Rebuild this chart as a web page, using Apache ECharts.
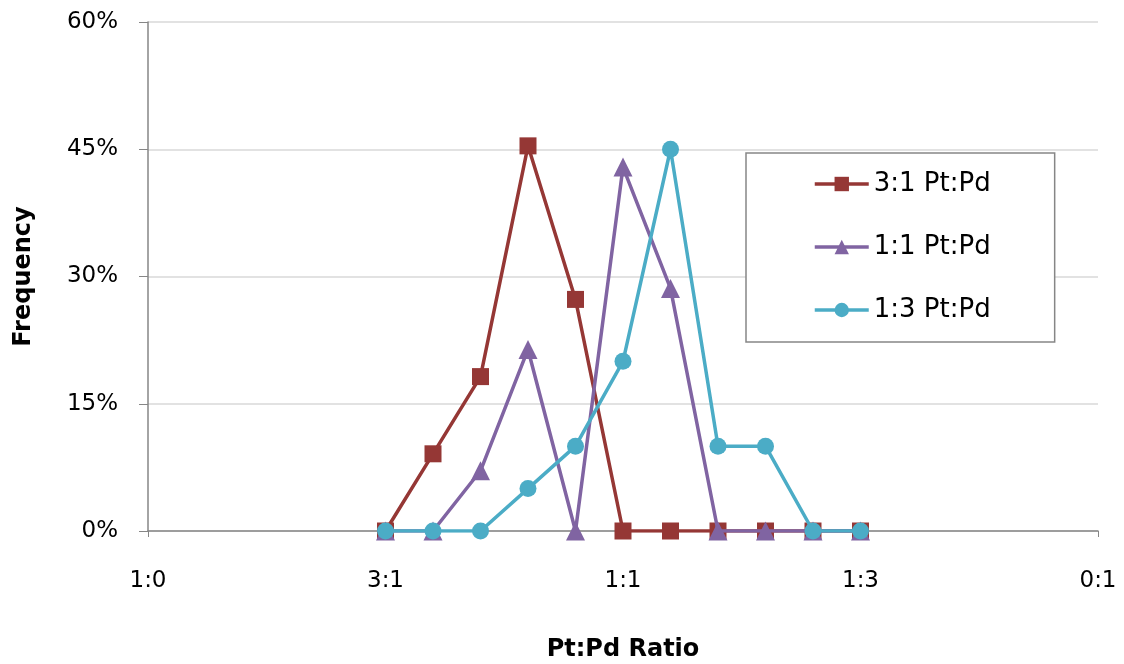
<!DOCTYPE html>
<html>
<head>
<meta charset="utf-8">
<script src="https://cdn.jsdelivr.net/npm/echarts@6/dist/echarts.min.js"></script>
<style>html,body{margin:0;padding:0;background:#fff}#c{width:1124px;height:664px}</style>
</head>
<body>
<div id="c"></div>
<script>
// Pd fraction positions (0 = 1:0, 1 = 0:1)
const xPositions = [0.25, 0.30, 0.35, 0.40, 0.45, 0.50, 0.55, 0.60, 0.65, 0.70, 0.75];
const xTickValues = [0, 0.25, 0.5, 0.75, 1];
const xTickLabels = ['1:0', '3:1', '1:1', '1:3', '0:1'];
const seriesNames = ['3:1 Pt:Pd', '1:1 Pt:Pd', '1:3 Pt:Pd'];
const s31 = [0, 9.1, 18.2, 45.4, 27.3, 0, 0, 0, 0, 0, 0];
const s11 = [0, 0, 7.1, 21.4, 0, 42.9, 28.6, 0, 0, 0, 0];
const s13 = [0, 0, 0, 5, 10, 20, 45, 10, 10, 0, 0];

const colors = ['#953735', '#8064A2', '#4BACC6'];
const symbols = ['rect', 'triangle', 'circle'];
const FONT = '"DejaVu Sans", sans-serif';

function pairs(vals) { return xPositions.map((x, i) => [x, vals[i]]); }

const chart = echarts.init(document.getElementById('c'));
chart.setOption({
  animation: false,
  backgroundColor: '#ffffff',
  textStyle: { fontFamily: FONT },
  grid: { left: 148, right: 26, top: 22, bottom: 133, containLabel: false, outerBoundsMode: 'none' },
  legend: {
    orient: 'vertical',
    left: 746, top: 153,
    padding: [16, 64, 17, 67],
    itemGap: 33,
    itemWidth: 54, itemHeight: 18,
    backgroundColor: '#fff',
    borderColor: '#868686', borderWidth: 1.5,
    lineStyle: { width: 3.5 },
    textStyle: { fontSize: 26, color: '#000', fontFamily: FONT, lineHeight: 30 },
    data: seriesNames
  },
  xAxis: {
    type: 'value', min: 0, max: 1, interval: 0.25,
    name: 'Pt:Pd Ratio', nameLocation: 'middle', nameGap: 107,
    nameTextStyle: { fontSize: 24, fontWeight: 'bold', color: '#000', fontFamily: FONT },
    axisLine: { show: true, lineStyle: { color: '#868686', width: 1.5 } },
    axisTick: { show: true, length: 6, lineStyle: { color: '#868686' } },
    splitLine: { show: false },
    axisLabel: {
      fontSize: 23, color: '#000', margin: 39,
      formatter: v => { const i = xTickValues.findIndex(t => Math.abs(t - v) < 1e-9); return i >= 0 ? xTickLabels[i] : ''; }
    }
  },
  yAxis: {
    type: 'value', min: 0, max: 60, interval: 15,
    name: 'Frequency', nameLocation: 'middle', nameGap: 112, nameRotate: 90,
    nameTextStyle: { fontSize: 24, fontWeight: 'bold', color: '#000', fontFamily: FONT },
    axisLine: { show: true, lineStyle: { color: '#868686', width: 1.5 } },
    axisTick: { show: true, length: 9, lineStyle: { color: '#868686' } },
    splitLine: { show: true, lineStyle: { color: '#D9D9D9', width: 1.5 } },
    axisLabel: { fontSize: 23, color: '#000', margin: 30, formatter: '{value}%' }
  },
  series: [s31, s11, s13].map((vals, i) => ({
    name: seriesNames[i],
    type: 'line',
    data: pairs(vals),
    symbol: symbols[i],
    symbolSize: i === 1 ? 19 : 17,
    color: colors[i],
    lineStyle: { width: 3.5, color: colors[i] },
    itemStyle: { color: colors[i] },
    z: 2 + i
  }))
});
</script>
</body>
</html>
